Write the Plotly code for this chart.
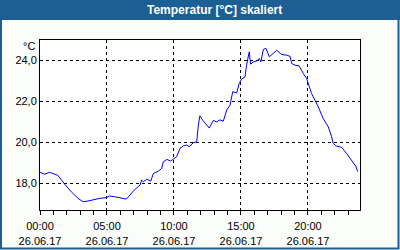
import plotly.graph_objects as go

DATE = "2017-06-26"
times = ["00:00", "00:21", "00:43", "01:06", "01:20", "01:50", "02:20", "02:50", "03:13", "03:35",
         "04:05", "04:28", "04:57", "05:12", "05:34", "05:57", "06:26", "06:43", "07:00", "07:28",
         "07:35", "07:43", "07:58", "08:16", "08:28", "08:50", "09:05", "09:12", "09:28", "09:45",
         "09:57", "10:12", "10:27", "10:42", "10:57", "11:08", "11:26", "11:42", "11:49", "11:56",
         "12:08", "12:38", "12:56", "13:11", "13:26", "13:41", "13:56", "14:11", "14:23", "14:41",
         "14:52", "15:03", "15:18", "15:25", "15:37", "15:43", "15:55", "16:10", "16:22", "16:29",
         "16:40", "16:52", "17:07", "17:22", "17:40", "18:02", "18:25", "18:40", "18:47", "19:02",
         "19:20", "19:39", "19:54", "20:16", "20:46", "21:08", "21:31", "21:46", "21:53", "22:08",
         "22:31", "22:53", "23:16", "23:34", "23:43"]
temps = [18.54, 18.45, 18.54, 18.45, 18.39, 17.97, 17.59, 17.27, 17.10, 17.14,
         17.22, 17.27, 17.30, 17.38, 17.35, 17.30, 17.23, 17.43, 17.65, 17.92,
         18.16, 18.08, 18.20, 18.11, 18.49, 18.60, 18.73, 19.05, 19.17, 19.09,
         19.17, 19.30, 19.71, 19.83, 19.87, 19.79, 19.98, 20.03, 20.84, 21.30,
         21.09, 20.70, 21.07, 21.00, 21.10, 21.04, 21.58, 21.82, 22.47, 22.42,
         22.88, 23.09, 23.20, 23.77, 24.42, 23.82, 23.93, 23.97, 24.10, 23.93,
         24.54, 24.59, 24.18, 24.34, 24.50, 24.29, 24.26, 24.20, 23.85, 23.77,
         23.74, 23.37, 23.12, 22.39, 21.74, 21.17, 20.76, 20.27, 19.95, 19.82,
         19.76, 19.46, 19.14, 18.84, 18.57]
x_range = ["2017-06-26 00:00", "2017-06-26 23:53"]
y_range = [16.7, 25.0]
y_ticks = [18, 20, 22, 24]
title_text = "Temperatur [°C] skaliert"
unit_text = "°C"

W, H = 400, 250
L, R, T, B = 40, 40, 40, 40
pw, ph = W - L - R, H - T - B


def px(x):
    return (x - L) / pw


def py(y):
    return (H - B - y) / ph


BLUE = "#1c5f94"
FONT = "Liberation Sans"

fig = go.Figure()
fig.add_trace(go.Scatter(
    x=[f"{DATE} {t}" for t in times], y=temps, mode="lines",
    line=dict(color="#0000ff", width=1), hoverinfo="skip"))

fig.update_layout(
    width=W, height=H, margin=dict(l=L, r=R, t=T, b=B, autoexpand=False),
    paper_bgcolor="#fbfdfb", plot_bgcolor="#ffffff",
    showlegend=False, separators=",.",
    font=dict(family=FONT, size=11, color="#000000"),
    xaxis=dict(
        type="date", range=x_range, dtick=5 * 3600000, tick0="2017-06-26 00:00",
        tickformat="%H:%M<br>%d.%m.%y", showgrid=True, gridcolor="#000000", gridwidth=1,
        griddash="3px,3px", showline=True, linecolor="#000000", linewidth=1, mirror=True,
        ticks="outside", ticklen=4, tickcolor="#000000", zeroline=False, ticklabelstandoff=2,
        automargin=False,
        minor=dict(dtick=3600000, ticks="outside", ticklen=4, tickcolor="#000000", showgrid=False),
        tickfont=dict(family=FONT, size=11), fixedrange=True),
    yaxis=dict(
        range=y_range, tickvals=y_ticks, tickformat=".1f", showgrid=True, gridcolor="#000000",
        gridwidth=1, griddash="3px,3px", showline=True, linecolor="#000000", linewidth=1,
        mirror=True, ticks="", zeroline=False, tickfont=dict(family=FONT, size=11),
        automargin=False, fixedrange=True),
    shapes=[
        dict(type="rect", xref="paper", yref="paper", x0=px(0), x1=px(W), y0=py(20), y1=py(0),
             fillcolor=BLUE, line=dict(width=0), layer="above"),
        dict(type="rect", xref="paper", yref="paper", x0=px(1), x1=px(W - 1.5), y0=py(H - 1.5), y1=py(1),
             fillcolor="rgba(0,0,0,0)", line=dict(color=BLUE, width=2), layer="above"),
    ],
    annotations=[
        dict(text=f"<b>{title_text}</b>", xref="paper", yref="paper", x=px(214), y=py(10),
             showarrow=False, font=dict(family=FONT, size=12, color="#ffffff"),
             xanchor="center", yanchor="middle"),
        dict(text=unit_text, xref="paper", yref="paper", x=px(37), y=py(46),
             showarrow=False, font=dict(family=FONT, size=11, color="#000000"),
             xanchor="right", yanchor="middle"),
    ],
)

fig.write_html("out.html", config=dict(displayModeBar=False, staticPlot=True))
